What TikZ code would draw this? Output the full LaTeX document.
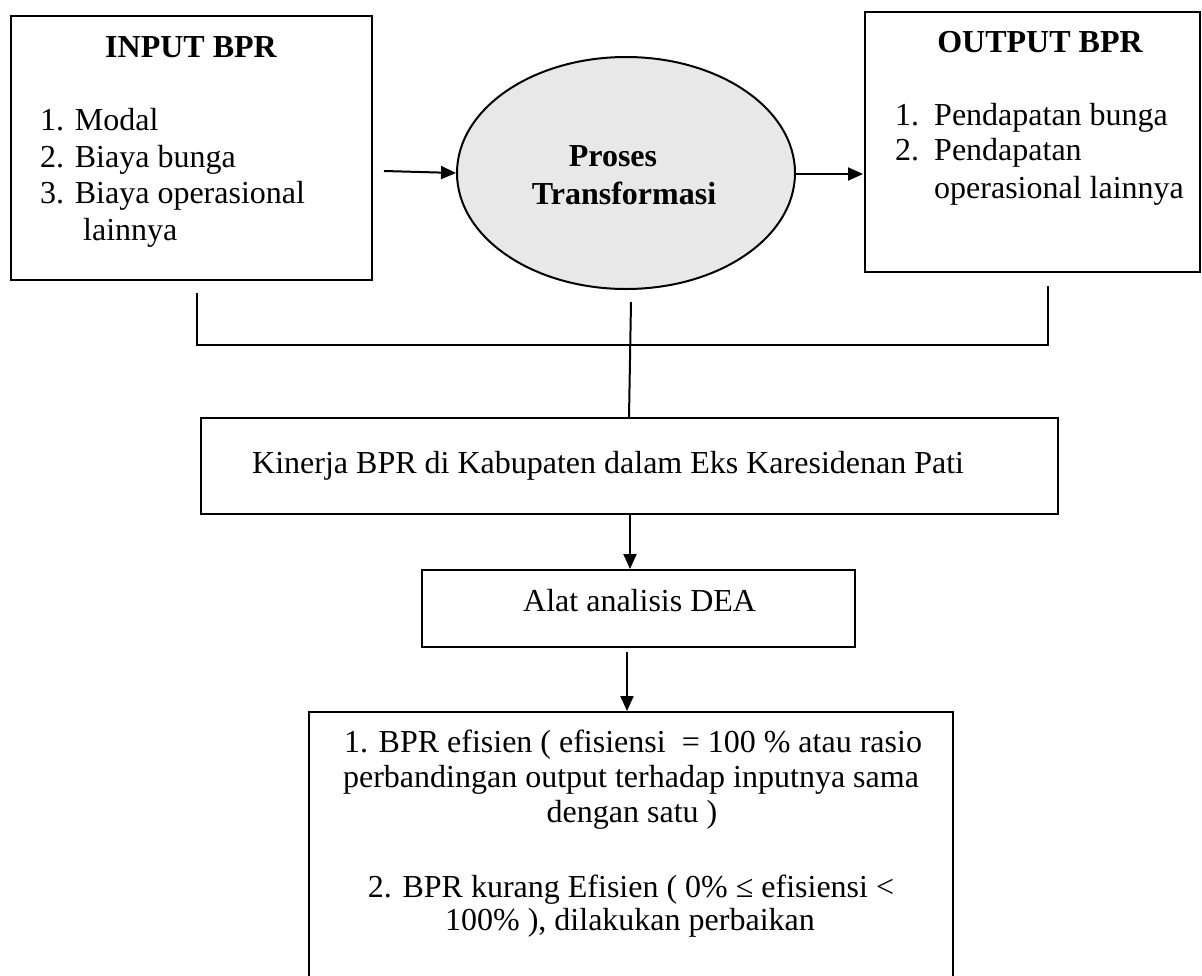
\documentclass[tikz,border=0pt]{standalone}
\usepackage{fontspec}
\setmainfont{Liberation Serif}
\usetikzlibrary{arrows.meta,shapes.geometric}
\tikzset{
  box/.style={draw=black, line width=2pt, rectangle, inner sep=0pt},
  oval/.style={draw=black, line width=2pt, ellipse, inner sep=0pt, fill=procgray},
  txt/.style={inner sep=0pt, font=\fontsize{32}{37}\selectfont},
  btxt/.style={inner sep=0pt, font=\fontsize{32}{37}\selectfont\bfseries},
  conn/.style={draw=black, line width=2pt},
  arr/.style={conn, -{Triangle[length=15pt,width=13pt]}},
}
\definecolor{procgray}{HTML}{E8E8E8}
\begin{document}
\begin{tikzpicture}[x=1pt,y=-1pt]
\useasboundingbox (0,0) rectangle (1202,975);
\clip (0,0) rectangle (1202,975);
\fill[white] (0,0) rectangle (1202,975);

% boxes
\node[box, minimum width=361pt, minimum height=264pt] (in) at (191.5,148) {};
\node[box, minimum width=335pt, minimum height=260pt] (out) at (1032.5,142) {};
\node[oval, minimum width=338pt, minimum height=232pt] (proc) at (626,173) {};
\node[box, minimum width=857pt, minimum height=96pt] (kin) at (629.5,466) {};
\node[box, minimum width=433pt, minimum height=77pt] (dea) at (638.5,608.5) {};
\node[box, minimum width=644pt, minimum height=296pt] (res) at (631,860) {};

% input text
\node[btxt, anchor=base] (inT) at (191,57) {INPUT BPR};
\node[txt, anchor=base west] (in1) at (40,130) {1. Modal};
\node[txt, anchor=base west] (in2) at (40,167) {2. Biaya bunga};
\node[txt, anchor=base west] (in3) at (40,203) {3. Biaya operasional};
\node[txt, anchor=base west] (in4) at (83,240) {lainnya};

% process text
\node[btxt, anchor=base] (p1) at (613,166) {Proses};
\node[btxt, anchor=base] (p2) at (624,204) {Transformasi};

% output text
\node[btxt, anchor=base] (outT) at (1040,52) {OUTPUT BPR};
\node[txt, anchor=base west] (o1n) at (895,125) {1.};
\node[txt, anchor=base west] (o1) at (934,125) {Pendapatan bunga};
\node[txt, anchor=base west] (o2n) at (895,160) {2.};
\node[txt, anchor=base west] (o2) at (934,160) {Pendapatan};
\node[txt, anchor=base west] (o3) at (934,198) {operasional lainnya};

% other texts
\node[txt, anchor=base west] (kinT) at (252,473) {Kinerja BPR di Kabupaten dalam Eks Karesidenan Pati};
\node[txt, anchor=base west] (deaT) at (523,611) {Alat analisis DEA};
\node[txt, anchor=base] (r1) at (633,752) {1. BPR efisien ( efisiensi \ = 100 \% atau rasio};
\node[txt, anchor=base] (r2) at (631,787) {perbandingan output terhadap inputnya sama};
\node[txt, anchor=base] (r3) at (632,822) {dengan satu )};
\node[txt, anchor=base] (r4) at (631,897) {2. BPR kurang Efisien ( 0\% ≤ efisiensi <};
\node[txt, anchor=base] (r5) at (630,930) {100\% ), dilakukan perbaikan};

% connectors
\coordinate (a1s) at (384,171);
\draw[arr] (a1s) -- (proc.west);
\coordinate (a2e) at (863,174);
\draw[arr] (proc.east |- a2e) -- (a2e);

\coordinate (bl) at (197,293);
\coordinate (br) at (1048,286);
\draw[conn] (bl) -- (197,345) -- (1048,345) -- (br);
\coordinate (vs) at (631,302);
\draw[conn] (vs) -- (kin.north -| 629,0);

\draw[arr] (kin.south -| 630,0) -- (dea.north -| 630,0);
\coordinate (a3s) at (627,652);
\draw[arr] (a3s) -- (res.north -| a3s);
\end{tikzpicture}
\end{document}
